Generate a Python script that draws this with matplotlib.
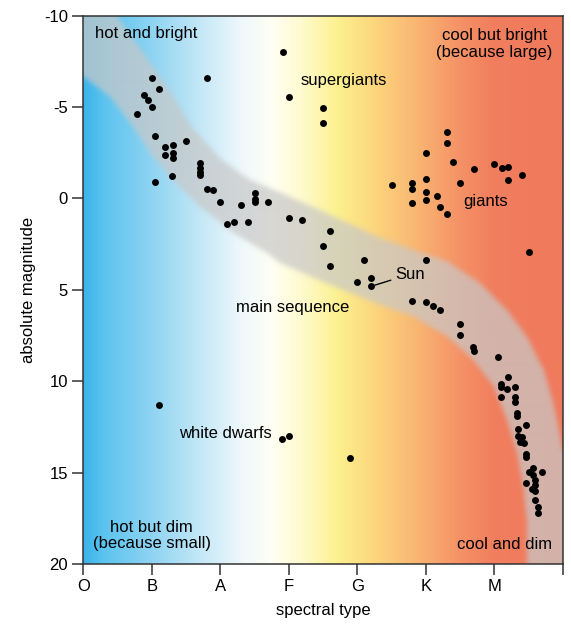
import numpy as np
import matplotlib
matplotlib.use("Agg")
import matplotlib.pyplot as plt
from matplotlib.colors import LinearSegmentedColormap, to_rgb
from matplotlib.path import Path

plt.rcParams["font.family"] = ["Liberation Sans", "DejaVu Sans"]

# ------------------------------------------------------------------
# data
# ------------------------------------------------------------------
SPECTRAL_TYPES = ["O", "B", "A", "F", "G", "K", "M", ""]
MAG_TICKS = [-10, -5, 0, 5, 10, 15, 20]

# stars: spectral position (O=0 ... M=6), absolute magnitude
star_x = [
    # upper main sequence
    1.00, 1.80, 1.10, 0.89, 0.95, 1.00, 0.79, 1.05, 1.50, 1.20, 1.31, 1.20,
    1.31, 1.31, 1.70, 1.70, 1.70, 1.70, 1.30, 1.05, 1.80, 1.90, 2.00, 2.30,
    2.50, 2.50, 2.51, 2.70, 2.10, 2.20, 2.40,
    # supergiants
    2.91, 3.01, 3.50, 3.50,
    # giants
    5.31, 5.31, 5.00, 5.40, 5.71, 6.00, 6.11, 6.20, 6.20, 6.41, 5.50, 4.51,
    4.80, 4.80, 5.00, 5.00, 5.00, 5.16, 4.80, 5.21, 5.31, 6.51,
    # middle / lower main sequence
    3.00, 3.20, 3.60, 3.50, 3.60, 4.10, 4.00, 4.20, 4.20, 5.00, 4.80, 5.00,
    5.10, 5.21, 5.50, 5.50, 5.69, 5.70, 6.05, 6.20, 6.10, 6.10, 6.19, 6.30,
    6.10, 6.30, 6.31, 6.33, 6.33, 6.46, 6.35, 6.35, 6.40, 6.38, 6.44, 6.46,
    6.46, 6.56, 6.51, 6.70, 6.56, 6.59, 6.46, 6.59, 6.55, 6.59, 6.60, 6.64,
    6.64,
    # white dwarfs
    1.10, 2.90, 3.00, 3.90,
]
star_mag = [
    -6.61, -6.61, -6.01, -5.64, -5.41, -5.00, -4.61, -3.41, -3.12, -2.80,
    -2.90, -2.40, -2.46, -2.24, -1.95, -1.69, -1.45, -1.27, -1.22, -0.91,
    -0.52, -0.45, 0.19, 0.38, -0.31, 0.05, 0.22, 0.19, 1.40, 1.30, 1.30,
    -8.01, -5.54, -4.95, -4.11,
    -3.64, -3.01, -2.51, -2.00, -1.62, -1.91, -1.64, -1.73, -1.00, -1.31,
    -0.82, -0.73, -0.85, -0.51, -1.04, -0.33, 0.09, -0.13, 0.27, 0.48, 0.87,
    2.95,
    1.08, 1.19, 1.79, 2.61, 3.68, 3.39, 4.57, 4.36, 4.81, 3.39, 5.63, 5.67,
    5.89, 6.10, 6.87, 7.49, 8.14, 8.36, 8.69, 9.75, 10.16, 10.33, 10.44,
    10.33, 10.87, 10.84, 11.13, 11.72, 11.90, 12.40, 12.62, 12.99, 13.06,
    13.30, 13.39, 13.97, 14.12, 14.75, 14.94, 14.99, 15.12, 15.39, 15.57,
    15.67, 15.90, 15.98, 16.49, 16.89, 17.21,
    11.30, 13.17, 12.99, 14.19,
]
SUN_X, SUN_MAG = 4.20, 4.81

# main-sequence band outline (upper edge, then lower edge back)
band_upper_x = [-0.5, 0.49, 0.95, 1.29, 1.58, 2.02, 2.43, 2.92, 3.60, 4.33,
                4.81, 5.31, 5.79, 6.18, 6.47, 6.72, 6.86, 6.96, 7.00, 7.50,
                7.50]
band_upper_y = [-12.0, -10.0, -7.56, -5.74, -3.91, -2.09, -1.00, -0.23, 0.91,
                2.17, 2.83, 3.46, 4.64, 6.10, 7.56, 9.38, 11.19, 13.03, 13.92,
                14.5, 22.0]
band_lower_x = [6.47, 6.47, 6.42, 6.33, 6.18, 5.99, 5.69, 5.31, 4.82, 4.33,
                3.60, 2.87, 2.68, 2.19, 1.70, 1.31, 1.02, 0.73, 0.39, 0.00,
                -0.5]
band_lower_y = [22.0, 17.58, 15.76, 13.92, 12.12, 10.30, 8.84, 7.56, 6.47,
                5.83, 4.74, 3.54, 2.99, 1.89, 0.46, -1.00, -2.27, -3.91,
                -5.55, -6.64, -7.3]

# background colour stops along the spectral axis
bg_pos = [0.0, 0.3, 1.0, 1.7, 2.3, 2.75, 3.2, 3.7, 4.3, 4.9, 5.5, 6.0, 7.0]
bg_col = ["#3cb4ea", "#5cc4ef", "#8fd4f2", "#c4e8f7", "#eef8fc", "#fffff4",
          "#fffacd", "#fdf190", "#fcd47c", "#f9b472", "#f59266", "#f17e5e",
          "#f07a5c"]

DARK = "#333333"
BAND_RGB = to_rgb("#c8c8c8")
BAND_ALPHA = 0.72


def blur(arr, sigma):
    """Separable gaussian blur (sigma in grid cells), edge padded."""
    r = int(3 * sigma)
    k = np.exp(-0.5 * (np.arange(-r, r + 1) / sigma) ** 2)
    k /= k.sum()
    padded = np.pad(arr, r, mode="edge")
    tmp = np.apply_along_axis(lambda v: np.convolve(v, k, mode="valid"), 1, padded)
    return np.apply_along_axis(lambda v: np.convolve(v, k, mode="valid"), 0, tmp)


def main():
    fig = plt.figure(figsize=(5.71, 6.25), dpi=100)
    ax = fig.add_axes([0.1459, 0.0976, 0.8396, 0.8773])

    # background gradient
    cmap = LinearSegmentedColormap.from_list(
        "spec", list(zip(np.array(bg_pos) / 7.0, bg_col)))
    grad = np.linspace(0, 1, 600).reshape(1, -1)
    ax.imshow(grad, cmap=cmap, extent=[0, 7, 20, -10], aspect="auto",
              interpolation="bicubic", zorder=0)

    # main sequence band, soft edged
    nx, ny = 480, 548
    gx = (np.arange(nx) + 0.5) / nx * 7.0
    gy = -10 + (np.arange(ny) + 0.5) / ny * 30.0
    mx, my = np.meshgrid(gx, gy)
    outline = Path(np.column_stack([band_upper_x + band_lower_x,
                                    band_upper_y + band_lower_y]))
    mask = outline.contains_points(
        np.column_stack([mx.ravel(), my.ravel()])).reshape(ny, nx).astype(float)
    mask = blur(mask, 2.5)
    rgba = np.zeros((ny, nx, 4))
    rgba[..., :3] = BAND_RGB
    rgba[..., 3] = mask * BAND_ALPHA
    ax.imshow(rgba, extent=[0, 7, 20, -10], aspect="auto",
              interpolation="bilinear", zorder=1)

    # stars
    ax.plot(star_x, star_mag, "o", color="black", ms=5, mec="none", zorder=3)

    # labels
    fs = 12
    ax.text(0.17, -9.05, "hot and bright", fontsize=fs, ha="left", va="center")
    ax.text(6.0, -8.45, "cool but bright\n(because large)", fontsize=fs,
            ha="center", va="center", linespacing=1.1)
    ax.text(3.81, -6.45, "supergiants", fontsize=fs, ha="center", va="center")
    ax.text(5.55, 0.19, "giants", fontsize=fs, ha="left", va="center")
    ax.text(3.06, 5.94, "main sequence", fontsize=fs, ha="center", va="center")
    ax.text(2.75, 12.84, "white dwarfs", fontsize=fs, ha="right", va="center")
    ax.text(1.0, 18.45, "hot but dim\n(because small)", fontsize=fs,
            ha="center", va="center", linespacing=1.1)
    ax.text(6.85, 18.96, "cool and dim", fontsize=fs, ha="right", va="center")
    ax.annotate("Sun", xy=(SUN_X, SUN_MAG), xytext=(4.55, 4.15),
                fontsize=fs, ha="left", va="center",
                arrowprops=dict(arrowstyle="-", color="black", lw=1,
                                shrinkA=1, shrinkB=3))

    ax.set_xlim(0, 7)
    ax.set_ylim(20, -10)
    ax.set_xticks(range(len(SPECTRAL_TYPES)))
    ax.set_xticklabels(SPECTRAL_TYPES)
    ax.set_yticks(MAG_TICKS)
    ax.set_yticklabels([str(v) if v >= 0 else "-" + str(-v) for v in MAG_TICKS])
    ax.tick_params(axis="both", direction="out", length=8, width=1.1,
                   color=DARK, labelsize=12, pad=3)
    ax.set_xlabel("spectral type", fontsize=12, labelpad=6)
    ax.set_ylabel("absolute magnitude", fontsize=12, labelpad=6)
    for sp in ax.spines.values():
        sp.set_color(DARK)
        sp.set_linewidth(1.1)

    fig.savefig("out.png", dpi=100)
    plt.close(fig)


if __name__ == "__main__":
    main()
